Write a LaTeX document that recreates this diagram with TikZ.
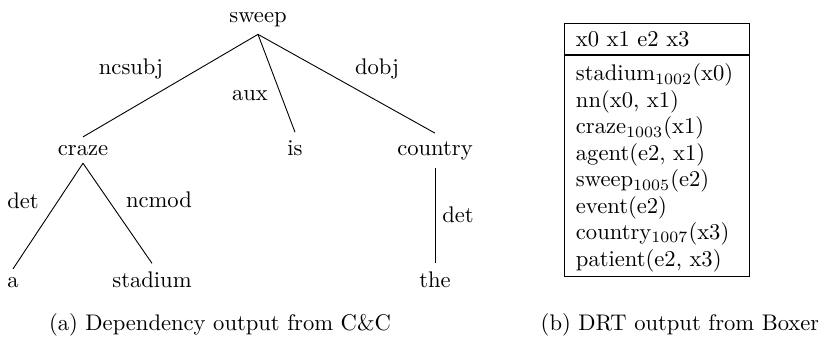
\documentclass[tikz,border=0pt]{standalone}
\usetikzlibrary{positioning}
\tikzset{
	palabra/.style={anchor=base},
	relacion/.style={anchor=base},
	leyenda/.style={anchor=base},
	cabecera/.style={draw, text width=71.3pt, inner xsep=5.3pt, 
		minimum height=12pt, align=left},
	cuerpo/.style={draw, text width=71.3pt, inner xsep=5.3pt, 
		inner ysep=4pt, text depth=82.5pt, align=left, 
		font=\fontsize{10}{11.7}\selectfont}
}

\begin{document}
\begin{tikzpicture}[x=0.4425pt, y=-0.4425pt]
		\useasboundingbox (0,0) rectangle (818,339);
		
		% arbol de dependencias
		\node[palabra] (sweep) at (258,22) {sweep};
		\node[palabra] (craze) at (83,155) {craze};
		\node[palabra] (is) at (295,155) {is};
		\node[palabra] (country) at (435,155) {country};
		\node[palabra] (a) at (13,287) {a};
		\node[palabra] (stadium) at (152,287) {stadium};
		\node[palabra] (the) at (435,287) {the};
		
		\draw (sweep.south) -- (craze.north);
		\draw (sweep.south) -- (is.north);
		\draw (sweep.south) -- (country.north);
		\draw (craze.south) -- (a.north);
		\draw (craze.south) -- (stadium.north);
		\draw (country.south) -- (the.north);
		
		\node[relacion] (ncsubj) at (131,74) {ncsubj};
		\node[relacion] (aux) at (250,100) {aux};
		\node[relacion] (dobj) at (377,74) {dobj};
		\node[relacion] (det1) at (23,208) {det};
		\node[relacion] (ncmod) at (159,207) {ncmod};
		\node[relacion] (det2) at (458,222) {det};
		
		% caja DRS
		\node[cabecera, anchor=north] (refs) at (656.5,23) {x0 x1 e2 x3};
		\node[cuerpo, below=0pt of refs] (conds) {stadium$_{1002}$(x0)\\
			nn(x0, x1)\\
			craze$_{1003}$(x1)\\
			agent(e2, x1)\\
			sweep$_{1005}$(e2)\\
			event(e2)\\
			country$_{1007}$(x3)\\
			patient(e2, x3)};
		
		\node[leyenda] (capa) at (220,330) {(a) Dependency output from C\&C};
		\node[leyenda] (capb) at (680,330) {(b) DRT output from Boxer};
\end{tikzpicture}
\end{document}
